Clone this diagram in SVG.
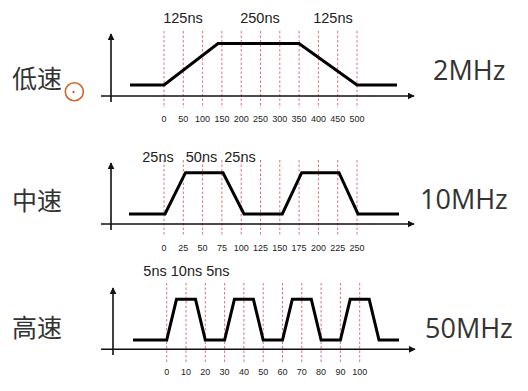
<svg xmlns="http://www.w3.org/2000/svg" width="528" height="391" viewBox="0 0 528 391">
<defs>
<marker id="arr" viewBox="0 0 10 10" refX="9" refY="5" markerWidth="7" markerHeight="7" markerUnits="userSpaceOnUse" orient="auto"><path d="M0,0 L10,5 L0,10 z" fill="#111"/></marker>
<style>
.axis{stroke:#111;stroke-width:1.6;fill:none}
.grid{stroke:#e0707e;stroke-width:1;stroke-dasharray:2.5,2;fill:none}
.wave{stroke:#000;stroke-width:3;fill:none;stroke-linejoin:miter}
.tick{font-family:"Liberation Sans",Arial,sans-serif;font-size:9px;fill:#222;text-anchor:middle}
.lab{font-family:"Liberation Sans",Arial,sans-serif;font-size:14.5px;fill:#222;text-anchor:middle}
.zh{font-family:"Noto Sans CJK SC",sans-serif;font-size:25px;fill:#333}
.mhz{font-family:"Open Sans","Noto Sans",sans-serif;font-size:27px;fill:#333}
</style>
</defs>
<rect width="528" height="391" fill="#fff"/>

<g id="low">
<text class="zh" x="12" y="88">低速</text>
<circle cx="74.3" cy="91.7" r="9" fill="none" stroke="#d2662a" stroke-width="1.6"/>
<circle cx="73.5" cy="92" r="1" fill="#c02020"/>
<g class="grid">
<path d="M164,31V108M183.3,31V108M202.6,31V108M221.9,31V108M241.2,31V108M260.5,31V108M279.8,31V108M299.1,31V108M318.4,31V108M337.7,31V108M357,31V108"/>
</g>
<path class="axis" d="M111,102V34" marker-end="url(#arr)"/>
<path class="axis" d="M101,96H414" marker-end="url(#arr)"/>
<path class="wave" d="M130,85H164L218,43.5H299L357,85H397"/>
<text class="lab" x="183" y="23">125ns</text>
<text class="lab" x="260" y="23">250ns</text>
<text class="lab" x="333" y="23">125ns</text>
<g class="tick">
<text x="164" y="122">0</text><text x="183.3" y="122">50</text><text x="202.6" y="122">100</text><text x="221.9" y="122">150</text><text x="241.2" y="122">200</text><text x="260.5" y="122">250</text><text x="279.8" y="122">300</text><text x="299.1" y="122">350</text><text x="318.4" y="122">400</text><text x="337.7" y="122">450</text><text x="357" y="122">500</text>
</g>
<text class="mhz" x="433" y="80">2MHz</text>
</g>

<g id="mid">
<text class="zh" x="12" y="210">中速</text>
<g class="grid">
<path d="M164,160V236M183.3,160V236M202.6,160V236M221.9,160V236M241.2,160V236M260.5,160V236M279.8,160V236M299.1,160V236M318.4,160V236M337.7,160V236M357,160V236"/>
</g>
<path class="axis" d="M111,230V163" marker-end="url(#arr)"/>
<path class="axis" d="M101,224H414" marker-end="url(#arr)"/>
<path class="wave" d="M129,214H165L185.5,172.7H223L244,214H282.3L301.7,172.7H339L358,214H399"/>
<text class="lab" x="158" y="162">25ns</text>
<text class="lab" x="201.5" y="162">50ns</text>
<text class="lab" x="240" y="162">25ns</text>
<g class="tick">
<text x="164" y="251">0</text><text x="183.3" y="251">25</text><text x="202.6" y="251">50</text><text x="221.9" y="251">75</text><text x="241.2" y="251">100</text><text x="260.5" y="251">125</text><text x="279.8" y="251">150</text><text x="299.1" y="251">175</text><text x="318.4" y="251">200</text><text x="337.7" y="251">225</text><text x="357" y="251">250</text>
</g>
<text class="mhz" x="420" y="209">10MHz</text>
</g>

<g id="high">
<text class="zh" x="12" y="337">高速</text>
<g class="grid">
<path d="M166.7,283V362M186,283V362M205.3,283V362M224.6,283V362M243.9,283V362M263.2,283V362M282.5,283V362M301.8,283V362M321.1,283V362M340.4,283V362M359.7,283V362"/>
</g>
<path class="axis" d="M113,355V288" marker-end="url(#arr)"/>
<path class="axis" d="M101,349.3H415" marker-end="url(#arr)"/>
<path class="wave" d="M133,340H166.7L176.5,299.3H195.5L205.3,340H224.6L234.4,299.3H253.4L263.2,340H282.5L292.3,299.3H311.3L321.1,340H340.4L350.2,299.3H369.2L379,340H399"/>
<text class="lab" x="186.5" y="276">5ns 10ns 5ns</text>
<g class="tick">
<text x="166.7" y="375">0</text><text x="186" y="375">10</text><text x="205.3" y="375">20</text><text x="224.6" y="375">30</text><text x="243.9" y="375">40</text><text x="263.2" y="375">50</text><text x="282.5" y="375">60</text><text x="301.8" y="375">70</text><text x="321.1" y="375">80</text><text x="340.4" y="375">90</text><text x="359.7" y="375">100</text>
</g>
<text class="mhz" x="425" y="338">50MHz</text>
</g>
</svg>
